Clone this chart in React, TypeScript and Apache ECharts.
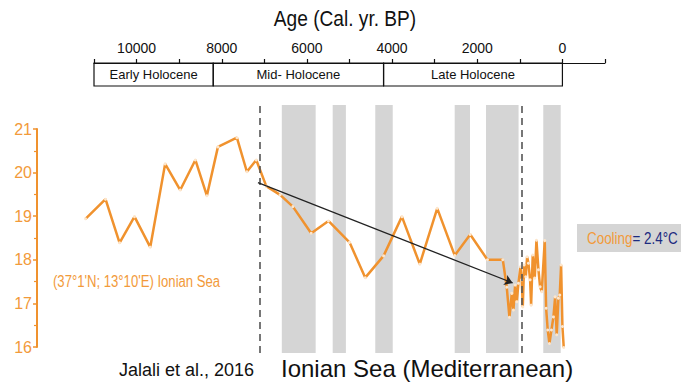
import React, { useEffect, useRef } from "react";
import * as echarts from "echarts";

// ---- Data (years BP, SST °C) ----
const ages = [
  11200, 10730, 10400, 10050, 9680, 9330, 8975, 8620, 8350, 8090, 7645, 7410, 7190, 6955,
  6630, 6330, 5900, 5495, 5000, 4630, 4200, 3770, 3350, 2940, 2530, 2165, 1760, 1400,
  1307, 1244, 1189, 1150, 1111, 1072, 1033, 986, 955, 931, 900, 861, 829, 798, 759, 735,
  697, 650, 610, 563, 524, 486, 415, 383, 345, 305, 258, 211, 171, 134, 94, 63, 31, 0, -31,
];
const sst = [
  18.94, 19.39, 18.39, 18.99, 18.29, 20.2, 19.6, 20.29, 19.47, 20.59, 20.8, 20.02, 20.29, 19.69,
  19.49, 19.22, 18.61, 18.89, 18.4, 17.59, 18.09, 18.99, 17.9, 19.18, 18.1, 18.58, 18.0, 18.0,
  17.37, 16.68, 17.23, 16.85, 17.42, 17.04, 17.46, 17.84, 17.54, 16.92, 17.88, 17.61, 18.07, 17.92, 17.54, 16.96,
  18.11, 17.58, 18.45, 17.77, 17.38, 17.27, 18.44, 16.89, 16.39, 16.08, 16.39, 16.69, 17.15, 16.28, 17.12, 17.19, 17.88, 16.47, 15.99,
];

// cold-event grey bands (years BP)
const bandStart = [6590, 5395, 4395, 2530, 1795, 450];
const bandEnd = [5795, 5085, 3985, 2170, 1030, 40];

// dashed boundaries
const dashedAges = [7100, 960];

// Holocene periods on the top axis
const periodNames = ["Early Holocene", "Mid- Holocene", "Late Holocene"];
const periodStart = [11000, 8200, 4200];
const periodEnd = [8200, 4200, 0];

// linear cooling trend
const trendStart = [7150, 19.77];
const trendEnd = [1170, 17.47];

const SANS = "'Liberation Sans', Arial, sans-serif";
const ORANGE = "#F0922E";
const ORANGE_TXT = "#F29A3A";

export default function App() {
  const ref = useRef<HTMLDivElement>(null);
  useEffect(() => {
    if (!ref.current) return;
    const chart = echarts.init(ref.current, undefined, { renderer: "svg" });
    const option: any = {
      animation: false,
      backgroundColor: "#ffffff",
      grid: [
        { left: 94, width: 511, top: 63, height: 23 },
        { left: 77, width: 528, top: 105, height: 248 },
        { left: 77, width: 528, top: 129, height: 218 },
      ],
      xAxis: [
        {
          gridIndex: 0,
          type: "value",
          position: "top",
          inverse: true,
          min: -1000,
          max: 11000,
          interval: 1000,
          axisLine: { show: true, onZero: false, lineStyle: { color: "#111", width: 1.2 } },
          axisTick: { show: true, length: 4, lineStyle: { color: "#111", width: 1.2 } },
          axisLabel: {
            margin: 8,
            fontFamily: SANS,
            fontSize: 14,
            color: "#111",
            formatter: (v: number) => (v >= 0 && v <= 10000 && v % 2000 === 0 ? String(v) : ""),
          },
          splitLine: { show: false },
        },
        {
          gridIndex: 1,
          type: "value",
          inverse: true,
          min: -1000,
          max: 11400,
          show: false,
          splitLine: { show: false },
        },
        {
          gridIndex: 2,
          type: "value",
          inverse: true,
          min: -1000,
          max: 11400,
          show: false,
          splitLine: { show: false },
        },
      ],
      yAxis: [
        { gridIndex: 0, type: "value", min: 0, max: 1, show: false, splitLine: { show: false } },
        { gridIndex: 1, type: "value", min: 0, max: 1, show: false, splitLine: { show: false } },
        {
          gridIndex: 2,
          type: "value",
          position: "left",
          min: 16,
          max: 21,
          interval: 1,
          offset: 40,
          axisLine: { show: true, onZero: false, lineStyle: { color: ORANGE, width: 2 } },
          axisTick: { show: true, length: 4, lineStyle: { color: ORANGE, width: 1.5 } },
          minorTick: { show: true, splitNumber: 2, length: 3, lineStyle: { color: ORANGE, width: 1.2 } },
          axisLabel: { color: ORANGE_TXT, fontFamily: SANS, fontSize: 16, margin: 5 },
          splitLine: { show: false },
        },
      ],
      series: [
        {
          type: "line",
          xAxisIndex: 0,
          yAxisIndex: 0,
          data: [[5000, -5]],
          symbol: "none",
          lineStyle: { opacity: 0 },
          silent: true,
          markArea: {
            silent: true,
            itemStyle: { color: "rgba(0,0,0,0)", borderColor: "#111", borderWidth: 1.2 },
            label: {
              show: true,
              position: "inside",
              fontFamily: SANS,
              fontSize: 13,
              color: "#111",
            },
            data: periodNames.map((n, i) => [
              { name: n, xAxis: periodStart[i] },
              { xAxis: periodEnd[i] },
            ]),
          },
        },
        {
          type: "line",
          xAxisIndex: 1,
          yAxisIndex: 1,
          data: [[5000, -5]],
          symbol: "none",
          lineStyle: { opacity: 0 },
          silent: true,
          markArea: {
            silent: true,
            itemStyle: { color: "#d5d5d5" },
            label: { show: false },
            data: bandStart.map((s, i) => [{ xAxis: s }, { xAxis: bandEnd[i] }]),
          },
          markLine: {
            silent: true,
            symbol: ["none", "none"],
            label: { show: false },
            lineStyle: { color: "#555", type: [7, 5], width: 1.6 },
            data: dashedAges.map((a) => ({ xAxis: a })),
          },
        },
        {
          type: "line",
          xAxisIndex: 2,
          yAxisIndex: 2,
          data: ages.map((a, i) => [a, sst[i]]),
          symbol: "circle",
          symbolSize: 3,
          showSymbol: true,
          itemStyle: { color: "#fde6cc", borderWidth: 0 },
          lineStyle: { color: ORANGE, width: 2.5 },
          clip: false,
          z: 3,
          markLine: {
            silent: true,
            symbol: ["none", "arrow"],
            symbolSize: 8,
            label: { show: false },
            lineStyle: { color: "#222", width: 1.3, type: "solid" },
            data: [[{ coord: trendStart }, { coord: trendEnd }]],
          },
        },
      ],
      graphic: [
        {
          type: "text",
          x: 345,
          y: 18,
          scaleX: 0.87,
          style: {
            text: "Age (Cal. yr. BP)",
            fill: "#111",
            font: `22px ${SANS}`,
            textAlign: "center",
            verticalAlign: "middle",
          },
        },
        {
          type: "text",
          x: 53,
          y: 282,
          scaleX: 0.82,
          style: {
            text: "(37°1'N; 13°10'E) Ionian Sea",
            fill: ORANGE_TXT,
            font: `16px ${SANS}`,
            textAlign: "left",
            verticalAlign: "middle",
          },
        },
        {
          type: "rect",
          shape: { x: 577, y: 224, width: 104, height: 28 },
          style: { fill: "#d5d5d5" },
        },
        {
          type: "text",
          x: 587,
          y: 238,
          scaleX: 0.79,
          style: {
            text: "{a|Cooling}{b|= 2.4°C}",
            textAlign: "left",
            verticalAlign: "middle",
            rich: {
              a: { fill: ORANGE_TXT, fontFamily: SANS, fontSize: 17 },
              b: { fill: "#1c2a80", fontFamily: SANS, fontSize: 17 },
            },
          },
        },
        {
          type: "text",
          left: 119,
          top: 361,
          style: { text: "Jalali et al., 2016", fill: "#111", font: `18px ${SANS}` },
        },
        {
          type: "text",
          left: 281,
          top: 356,
          style: { text: "Ionian Sea (Mediterranean)", fill: "#111", font: `24px ${SANS}` },
        },
      ],
    };
    chart.setOption(option);
    return () => chart.dispose();
  }, []);
  return (
    <div
      ref={ref}
      style={{ position: "fixed", left: 0, top: 0, width: 689, height: 390, background: "#fff" }}
    />
  );
}
